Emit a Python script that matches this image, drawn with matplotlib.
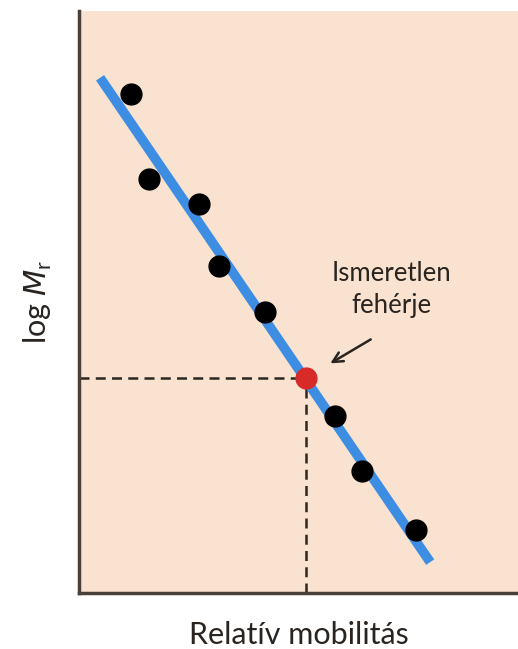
import matplotlib
matplotlib.use("Agg")
import matplotlib.pyplot as plt

# Standard proteins: relative mobility vs. log Mr
mobility = [0.118, 0.159, 0.273, 0.319, 0.424, 0.583, 0.645, 0.768]
log_mr = [0.857, 0.711, 0.668, 0.562, 0.483, 0.304, 0.210, 0.108]

# Calibration line end points
line_x = [0.048, 0.800]
line_y = [0.885, 0.053]

# Unknown protein
unknown_x = 0.517
unknown_y = 0.370

plt.rcParams['font.family'] = ['Lato', 'DejaVu Sans']
plt.rcParams['mathtext.fontset'] = 'custom'
plt.rcParams['mathtext.rm'] = 'Lato'
plt.rcParams['mathtext.it'] = 'DejaVu Sans:italic'

fig = plt.figure(figsize=(5.18, 6.49), dpi=100)
fig.patch.set_facecolor('white')
ax = fig.add_axes([0.1525, 0.0863, 0.8475, 0.897])
ax.set_facecolor('#f9e3d0')
ax.set_xlim(0, 1)
ax.set_ylim(0, 1)

ax.plot(line_x, line_y, color='#3d8ee3', lw=7, solid_capstyle='butt', zorder=2)
ax.plot(mobility, log_mr, 'o', color='black', ms=15, zorder=3)

ax.plot([0, unknown_x], [unknown_y, unknown_y], ls=(0, (4, 2.5)), color='#2e2620', lw=1.8, zorder=1)
ax.plot([unknown_x, unknown_x], [0, unknown_y], ls=(0, (4, 2.5)), color='#2e2620', lw=1.8, zorder=1)
ax.plot([unknown_x], [unknown_y], 'o', color='#d92a2a', ms=15, zorder=4)

ax.annotate('', xy=(0.567, 0.392), xytext=(0.670, 0.438),
            arrowprops=dict(arrowstyle='->', color='#2a2420', lw=1.8, mutation_scale=18))
ax.text(0.711, 0.522, 'Ismeretlen\nfehérje', ha='center', va='center',
        fontsize=18.5, color='#2a2420', linespacing=1.35)

for side in ['top', 'right']:
    ax.spines[side].set_visible(False)
for side in ['left', 'bottom']:
    ax.spines[side].set_color('#4a403a')
    ax.spines[side].set_linewidth(2.5)
ax.set_xticks([])
ax.set_yticks([])

ax.set_xlabel('Relatív mobilitás', fontsize=22, color='#2a2420', labelpad=20)
ax.set_ylabel(r'log $\mathit{M}_{\mathrm{r}}$', fontsize=22, color='#2a2420', labelpad=18)

fig.savefig('out.png', dpi=100, facecolor='white')
